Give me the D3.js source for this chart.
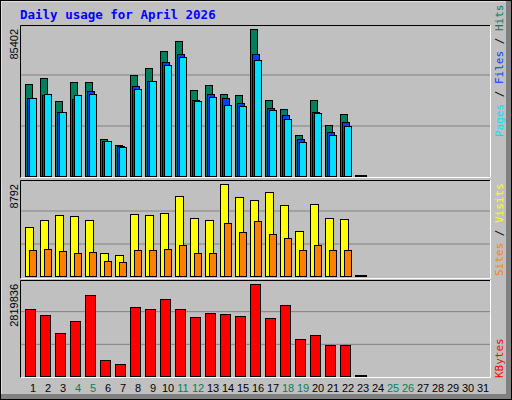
<!DOCTYPE html>
<html><head><meta charset="utf-8">
<script src="https://cdn.jsdelivr.net/npm/d3@7"></script>
<style>body{margin:0;background:#fff}svg{display:block}</style></head>
<body><script>
const days = d3.range(1, 32);
const weekend = [4,5,11,12,18,19,25,26];
const hits  = [53452,56938,43575,54614,54614,21497,18011,58681,62748,72625,78435,49966,52871,47642,47061,85402,44156,38927,23821,44156,29631,36022,0];
const files = [45318,47061,37184,44737,49385,20335,17430,52290,55195,66234,70882,44156,47642,45318,42413,70882,39508,35441,21497,37184,25564,31374,0];
const pages = [45318,47642,37184,47061,47642,20335,16849,50547,55195,64491,69139,43575,45899,41251,40670,67396,38346,33117,19754,36603,23821,29050,0];
const visits= [4683,5352,5830,5734,5352,2198,2007,5925,5830,6021,7646,5543,5352,8792,7550,7263,8028,6785,4301,6881,5543,5447,0];
const sites = [2485,2580,2389,2198,2294,1434,1338,2485,2485,2580,2963,2198,2198,5065,4205,5256,4014,3632,2485,2963,2485,2485,0];
const kbytes= [2053550,1869650,1317950,1685750,2482650,490400,367800,2114850,2053550,2360050,2053550,1808350,1930950,1900300,1839000,2819836,1777700,2176150,1134050,1256650,950150,950150,0];

const W=512,H=400;
const svg=d3.select("body").append("svg").attr("width",W).attr("height",H);
svg.append("rect").attr("width",W).attr("height",H).attr("fill","#c0c0c0");
// 3D frame
svg.append("rect").attr("x",506).attr("y",0).attr("width",6).attr("height",H).attr("fill","#808080");
svg.append("rect").attr("x",0).attr("y",394).attr("width",W).attr("height",6).attr("fill","#808080");
svg.append("line").attr("x1",0).attr("y1",0.5).attr("x2",506).attr("y2",0.5).attr("stroke","#fff").attr("stroke-width",2);
svg.append("line").attr("x1",0.5).attr("y1",0).attr("x2",0.5).attr("y2",394).attr("stroke","#fff").attr("stroke-width",2);
svg.append("rect").attr("x",0.5).attr("y",0.5).attr("width",W-1).attr("height",H-1).attr("fill","none").attr("stroke","#000");

svg.append("text").attr("x",20).attr("y",19).text("Daily usage for April 2026")
  .attr("font-family","DejaVu Sans Mono").attr("font-weight","bold").attr("font-size",12.5).attr("fill","#0000ff");

const x=d3.scaleLinear().domain([1,2]).range([25,40]);
const mono="DejaVu Sans Mono";

function panel(top,bottom,base,maxY,maxVal,series,label,rlabel,rlabelY){
  svg.append("rect").attr("x",20).attr("y",top).attr("width",471).attr("height",bottom-top).attr("fill","#c0c0c0");
  const y=d3.scaleLinear().domain([0,maxVal]).range([base,maxY]);
  const step=(base-maxY+ (maxY-top))/3;
  [1,2].forEach(i=>svg.append("line").attr("x1",21).attr("x2",490).attr("y1",base-i*(bottom-top)/3+1).attr("y2",base-i*(bottom-top)/3+1).attr("stroke","#808080"));
  series.forEach(s=>{
    s.data.forEach((v,i)=>{
      const d=i+1;
      if(v===0){
        svg.append("rect").attr("x",x(d)).attr("y",base-1).attr("width",12).attr("height",2).attr("fill","#000");
        return;
      }
      svg.append("rect").attr("x",x(d)+s.off+0.5).attr("y",y(v)+0.5).attr("width",s.w).attr("height",base-y(v))
        .attr("fill",s.color).attr("stroke","#000").attr("stroke-width",1);
    });
  });
  svg.append("path").attr("d",`M20.5,${bottom}V${top+0.5}H491`).attr("fill","none").attr("stroke","#000");
  svg.append("path").attr("d",`M20.5,${bottom-0.5}H490.5V${top}`).attr("fill","none").attr("stroke","#fff");
  svg.append("text").attr("transform",`translate(18,${top+4}) rotate(-90)`).attr("text-anchor","end")
    .attr("font-family","Liberation Sans").attr("font-size",11).text(label);
  const t=svg.append("text").attr("transform",`translate(503,${rlabelY}) rotate(-90)`).attr("text-anchor","start")
    .attr("font-family",mono).attr("font-size",11);
  rlabel.forEach(p=>t.append("tspan").attr("fill",p[1]).text(p[0]));
}

panel(25,178,176,29,85402,[
  {data:hits,off:0,w:7,color:"#00805c"},
  {data:files,off:2,w:7,color:"#0040ff"},
  {data:pages,off:4,w:7,color:"#00e0ff"}],"85402",
  [["Pages","#00e0ff"],[" / ","#000"],["Files","#0040ff"],[" / ","#000"],["Hits","#00805c"]],137);
panel(180,279,276,184,8792,[
  {data:visits,off:0,w:8,color:"#ffff00"},
  {data:sites,off:4,w:7,color:"#ff8000"}],"8792",
  [["Sites","#ff8000"],[" / ","#000"],["Visits","#ffff00"]],276);
panel(280,378,376,284,2819836,[
  {data:kbytes,off:0,w:10,color:"#ff0000"}],"2819836",
  [["KBytes","#ff0000"]],378);

svg.selectAll("text.day").data(days).enter().append("text").attr("class","day")
  .attr("x",d=>x(d)+8).attr("y",392).attr("text-anchor","middle")
  .attr("font-family","Liberation Sans").attr("font-size",11)
  .attr("fill",d=>weekend.includes(d)?"#00805c":"#000").text(d=>d);
</script></body></html>
